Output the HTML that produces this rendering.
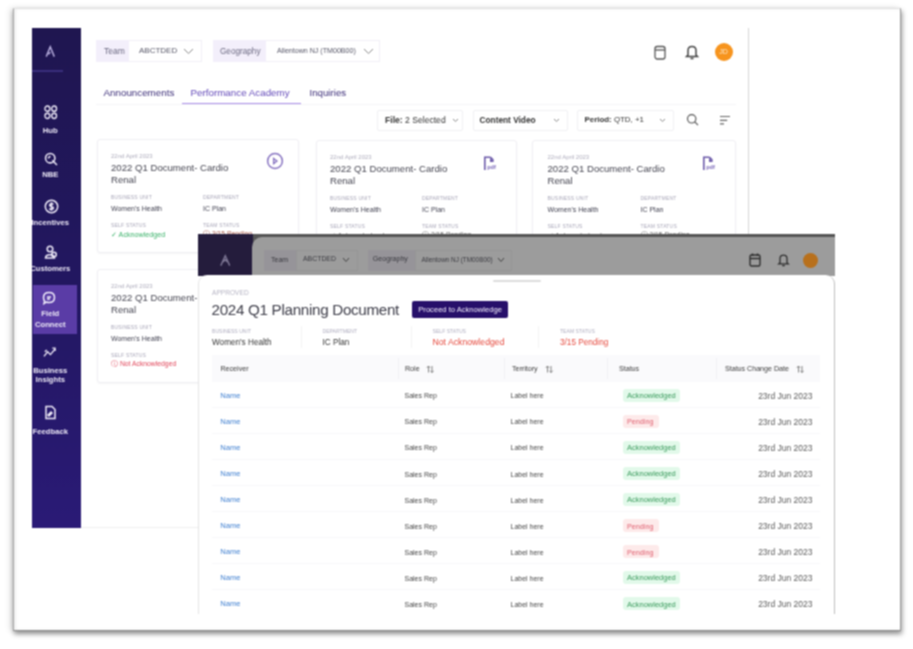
<!DOCTYPE html>
<html><head><meta charset="utf-8"><style>
*{margin:0;padding:0;box-sizing:border-box}
html,body{width:913px;height:649px;overflow:hidden;background:#fff;font-family:"Liberation Sans",sans-serif;color:#333}
.a{position:absolute}
.t{position:absolute;white-space:nowrap;line-height:1}
</style></head><body><svg width="0" height="0" style="position:absolute"><filter id="bl" x="0" y="0" width="100%" height="100%" color-interpolation-filters="sRGB"><feConvolveMatrix order="3" kernelMatrix="1 2 1 2 4 2 1 2 1" divisor="16" edgeMode="duplicate"/></filter></svg><div class="a" style="left:0;top:0;width:913px;height:649px;filter:url(#bl)">
<div class="a" style="left:13px;top:8px;width:888px;height:623px;background:#fff;border:1px solid #e2e2e2;border-left-color:#a4a4a4;border-right-color:#999;border-bottom-color:#8c8c8c;box-shadow:-3px 0 6px rgba(0,0,0,.12),1px 3px 5px rgba(0,0,0,.42),inset 2px 0 3px rgba(0,0,0,.07)"></div>
<div class="a" style="left:748px;top:28px;width:1px;height:206px;background:#d5d5d5;"></div>
<div class="a" style="left:81px;top:527px;width:118px;height:1px;background:#eee;"></div>
<div class="a" style="left:96px;top:40px;width:33px;height:22px;background:#f3effb;"></div>
<div class="a" style="left:129px;top:40px;width:73px;height:22px;border:1px solid #f1eff6;border-left:none"></div>
<div class="t" style="left:104px;top:47.08px;font-size:8.5px;color:#6a6880;">Team</div>
<div class="t" style="left:139px;top:47.34px;font-size:8px;color:#555566;">ABCTDED</div>
<svg class="a" style="left:183px;top:48px" width="11" height="7" viewBox="0 0 11 7"><path d="M1 1 L5.5 5.5 L10 1" fill="none" stroke="#888" stroke-width="1"/></svg>
<div class="a" style="left:212.5px;top:40px;width:53.5px;height:22px;background:#f3effb;"></div>
<div class="a" style="left:266.0px;top:40px;width:113.5px;height:22px;border:1px solid #f1eff6;border-left:none"></div>
<div class="t" style="left:220px;top:47.74px;font-size:8.2px;color:#6a6880;">Geography</div>
<div class="t" style="left:277px;top:48.31px;font-size:7.1px;color:#555566;">Allentown NJ (TM00B00)</div>
<svg class="a" style="left:363px;top:48px" width="11" height="7" viewBox="0 0 11 7"><path d="M1 1 L5.5 5.5 L10 1" fill="none" stroke="#888" stroke-width="1"/></svg>
<svg class="a" style="left:654px;top:44.5px" width="12" height="15" viewBox="0 0 12 15"><g fill="none" stroke="#555" stroke-width="1.3"><rect x="1" y="1.5" width="10" height="12.5" rx="2.2"/><path d="M1 5 H11"/></g></svg>
<svg class="a" style="left:685px;top:43.5px" width="14" height="16" viewBox="0 0 14 16"><g fill="none" stroke="#444" stroke-width="1.5"><path d="M3 11 V6.5 C3 4 4.8 2.5 7 2.5 C9.2 2.5 11 4 11 6.5 V11 L12.5 12.5 H1.5 Z M5.5 14.5 H8.5"/></g></svg>
<div class="a" style="left:714.6px;top:43px;width:18px;height:18px;background:#f7941d;border-radius:50%"></div>
<div class="t" style="left:714.6px;top:48.36px;font-size:7px;color:#fde9cc;width:18px;text-align:center;">JD</div>
<div class="t" style="left:103.5px;top:87.90px;font-size:9.8px;color:#3b2d78;">Announcements</div>
<div class="t" style="left:190.5px;top:87.90px;font-size:9.8px;color:#6248b8;">Performance Academy</div>
<div class="a" style="left:182px;top:102.5px;width:119px;height:2px;background:#a88ce6;"></div>
<div class="t" style="left:309.5px;top:87.96px;font-size:9.7px;color:#3b2d78;">Inquiries</div>
<div class="a" style="left:96px;top:104px;width:640px;height:1px;background:#f4f4f7;"></div>
<div class="a" style="left:377px;top:110px;width:86px;height:21px;border:1px solid #f0f0f3;border-radius:2px"></div>
<div class="t" style="left:385px;top:115.53px;font-size:8.6px;color:#333;"><b>File:</b> 2 Selected</div>
<svg class="a" style="left:451.5px;top:118px" width="7" height="5" viewBox="0 0 7 5"><path d="M1 1 L3.5 3.5 L6 1" fill="none" stroke="#888" stroke-width="1"/></svg>
<div class="a" style="left:473px;top:110px;width:95px;height:21px;border:1px solid #f0f0f3;border-radius:2px"></div>
<div class="t" style="left:479.5px;top:115.68px;font-size:8.3px;color:#333;"><b>Content Video</b></div>
<svg class="a" style="left:552.5px;top:118px" width="7" height="5" viewBox="0 0 7 5"><path d="M1 1 L3.5 3.5 L6 1" fill="none" stroke="#888" stroke-width="1"/></svg>
<div class="a" style="left:577px;top:110px;width:97px;height:21px;border:1px solid #f0f0f3;border-radius:2px"></div>
<div class="t" style="left:584.5px;top:115.89px;font-size:7.9px;color:#333;"><b>Period:</b> QTD, +1</div>
<svg class="a" style="left:659px;top:118px" width="7" height="5" viewBox="0 0 7 5"><path d="M1 1 L3.5 3.5 L6 1" fill="none" stroke="#888" stroke-width="1"/></svg>
<svg class="a" style="left:686px;top:113px" width="14" height="14" viewBox="0 0 14 14"><g fill="none" stroke="#555" stroke-width="1.15"><circle cx="5.7" cy="5.8" r="4.2"/><path d="M8.8 8.9 L12 12.2"/></g></svg>
<svg class="a" style="left:719px;top:114px" width="12" height="12" viewBox="0 0 12 12"><g fill="none" stroke="#666" stroke-width="1.2"><path d="M1 2.5 H11 M1 6.3 H8.2 M1 9.8 H5"/></g></svg>
<div class="a" style="left:97px;top:139px;width:202px;height:114px;border:1px solid #efeef3;border-radius:3px;box-shadow:0 1px 2px rgba(0,0,0,.04)"></div>
<div class="t" style="left:111px;top:152.68px;font-size:6px;color:#aeacbc;">22nd April 2023</div>
<div class="t" style="left:111px;top:163.31px;font-size:9.6px;color:#444450;">2022 Q1 Document- Cardio</div>
<div class="t" style="left:111px;top:174.71px;font-size:9.6px;color:#444450;">Renal</div>
<div class="t" style="left:111px;top:195.40px;font-size:5px;color:#a8a6b8;letter-spacing:.2px">BUSINESS UNIT</div>
<div class="t" style="left:203px;top:195.40px;font-size:5px;color:#a8a6b8;letter-spacing:.2px">DEPARTMENT</div>
<div class="t" style="left:111px;top:204.56px;font-size:7px;color:#404050;">Women's Health</div>
<div class="t" style="left:203px;top:204.56px;font-size:7px;color:#404050;">IC Plan</div>
<div class="t" style="left:111px;top:222.70px;font-size:5px;color:#a8a6b8;letter-spacing:.2px">SELF STATUS</div>
<div class="t" style="left:203px;top:222.70px;font-size:5px;color:#a8a6b8;letter-spacing:.2px">TEAM STATUS</div>
<div class="t" style="left:111px;top:230.76px;font-size:7.2px;color:#3bb26a;">&#10003; Acknowledged</div>
<div class="t" style="left:203px;top:230.96px;font-size:6.8px;color:#a85848;">&#9432; 3/15 Pending</div>
<svg class="a" style="left:266px;top:152.4px" width="18" height="18" viewBox="0 0 18 18"><g fill="none" stroke="#8672c0" stroke-width="1.5"><circle cx="9" cy="9" r="7.4"/><path d="M7.6 6.4 L11 9 L7.6 11.6 Z" stroke-width="1.3"/></g></svg>
<div class="a" style="left:316px;top:140px;width:201px;height:114px;border:1px solid #efeef3;border-radius:3px;box-shadow:0 1px 2px rgba(0,0,0,.04)"></div>
<div class="t" style="left:330px;top:153.68px;font-size:6px;color:#aeacbc;">22nd April 2023</div>
<div class="t" style="left:330px;top:164.31px;font-size:9.6px;color:#444450;">2022 Q1 Document- Cardio</div>
<div class="t" style="left:330px;top:175.71px;font-size:9.6px;color:#444450;">Renal</div>
<div class="t" style="left:330px;top:196.40px;font-size:5px;color:#a8a6b8;letter-spacing:.2px">BUSINESS UNIT</div>
<div class="t" style="left:422px;top:196.40px;font-size:5px;color:#a8a6b8;letter-spacing:.2px">DEPARTMENT</div>
<div class="t" style="left:330px;top:205.56px;font-size:7px;color:#404050;">Women's Health</div>
<div class="t" style="left:422px;top:205.56px;font-size:7px;color:#404050;">IC Plan</div>
<div class="t" style="left:330px;top:223.70px;font-size:5px;color:#a8a6b8;letter-spacing:.2px">SELF STATUS</div>
<div class="t" style="left:422px;top:223.70px;font-size:5px;color:#a8a6b8;letter-spacing:.2px">TEAM STATUS</div>
<div class="t" style="left:330px;top:231.76px;font-size:7.2px;color:#666;">&#10003; Acknowledged</div>
<div class="t" style="left:422px;top:231.96px;font-size:6.8px;color:#666;">&#9432; 3/15 Pending</div>
<svg class="a" style="left:483px;top:155.5px" width="16" height="15" viewBox="0 0 16 15"><g fill="none" stroke="#6a58a8" stroke-width="1.6"><path d="M1.8 14 V1.2 H7.5 M7.5 1.2 L9.8 3.5 V5.2 H7.8 V2.5"/></g><text x="4.2" y="13.3" font-size="5.6" font-weight="bold" fill="#7a68b8" font-family="Liberation Sans">pdf</text></svg>
<div class="a" style="left:532px;top:140px;width:204px;height:114px;border:1px solid #efeef3;border-radius:3px;box-shadow:0 1px 2px rgba(0,0,0,.04)"></div>
<div class="t" style="left:547.5px;top:153.68px;font-size:6px;color:#aeacbc;">22nd April 2023</div>
<div class="t" style="left:547.5px;top:164.31px;font-size:9.6px;color:#444450;">2022 Q1 Document- Cardio</div>
<div class="t" style="left:547.5px;top:175.71px;font-size:9.6px;color:#444450;">Renal</div>
<div class="t" style="left:547.5px;top:196.40px;font-size:5px;color:#a8a6b8;letter-spacing:.2px">BUSINESS UNIT</div>
<div class="t" style="left:640.5px;top:196.40px;font-size:5px;color:#a8a6b8;letter-spacing:.2px">DEPARTMENT</div>
<div class="t" style="left:547.5px;top:205.56px;font-size:7px;color:#404050;">Women's Health</div>
<div class="t" style="left:640.5px;top:205.56px;font-size:7px;color:#404050;">IC Plan</div>
<div class="t" style="left:547.5px;top:223.70px;font-size:5px;color:#a8a6b8;letter-spacing:.2px">SELF STATUS</div>
<div class="t" style="left:640.5px;top:223.70px;font-size:5px;color:#a8a6b8;letter-spacing:.2px">TEAM STATUS</div>
<div class="t" style="left:547.5px;top:231.76px;font-size:7.2px;color:#666;">&#10003; Acknowledged</div>
<div class="t" style="left:640.5px;top:231.96px;font-size:6.8px;color:#666;">&#9432; 3/15 Pending</div>
<svg class="a" style="left:702px;top:155.5px" width="16" height="15" viewBox="0 0 16 15"><g fill="none" stroke="#6a58a8" stroke-width="1.6"><path d="M1.8 14 V1.2 H7.5 M7.5 1.2 L9.8 3.5 V5.2 H7.8 V2.5"/></g><text x="4.2" y="13.3" font-size="5.6" font-weight="bold" fill="#7a68b8" font-family="Liberation Sans">pdf</text></svg>
<div class="a" style="left:97px;top:269px;width:202px;height:114px;border:1px solid #efeef3;border-radius:3px;box-shadow:0 1px 2px rgba(0,0,0,.04)"></div>
<div class="t" style="left:111px;top:282.68px;font-size:6px;color:#aeacbc;">22nd April 2023</div>
<div class="t" style="left:111px;top:293.31px;font-size:9.6px;color:#444450;">2022 Q1 Document- Cardio</div>
<div class="t" style="left:111px;top:304.71px;font-size:9.6px;color:#444450;">Renal</div>
<div class="t" style="left:111px;top:325.40px;font-size:5px;color:#a8a6b8;letter-spacing:.2px">BUSINESS UNIT</div>
<div class="t" style="left:203px;top:325.40px;font-size:5px;color:#a8a6b8;letter-spacing:.2px">DEPARTMENT</div>
<div class="t" style="left:111px;top:334.56px;font-size:7px;color:#404050;">Women's Health</div>
<div class="t" style="left:203px;top:334.56px;font-size:7px;color:#404050;">IC Plan</div>
<div class="t" style="left:111px;top:352.70px;font-size:5px;color:#a8a6b8;letter-spacing:.2px">SELF STATUS</div>
<div class="t" style="left:203px;top:352.70px;font-size:5px;color:#a8a6b8;letter-spacing:.2px">TEAM STATUS</div>
<div class="t" style="left:111px;top:360.96px;font-size:6.8px;color:#e0465a;">&#9432; Not Acknowledged</div>
<div class="t" style="left:203px;top:360.96px;font-size:6.8px;color:#e06a3a;">&#9432; 3/15 Pending</div>
<svg class="a" style="left:265px;top:284.5px" width="16" height="15" viewBox="0 0 16 15"><g fill="none" stroke="#6a58a8" stroke-width="1.6"><path d="M1.8 14 V1.2 H7.5 M7.5 1.2 L9.8 3.5 V5.2 H7.8 V2.5"/></g><text x="4.2" y="13.3" font-size="5.6" font-weight="bold" fill="#7a68b8" font-family="Liberation Sans">pdf</text></svg>
<div class="a" style="left:32px;top:28px;width:49px;height:500px;overflow:hidden;background:linear-gradient(#1f1650,#221760 50%,#2a1a76)"><div class="a" style="left:-32px;top:-28px;width:913px;height:649px">
<svg class="a" style="left:43.5px;top:45px" width="12.5" height="12.5" viewBox="0 0 14 14"><path d="M2.5 13 L7 2 L11.5 13 M5 10.5 L7.2 8" fill="none" stroke="#b9b0e0" stroke-width="1.6"/></svg>
<div class="a" style="left:32px;top:70.3px;width:31px;height:1.5px;background:#3a2e7c;"></div>
<svg class="a" style="left:44px;top:105px" width="13.5" height="14.5" viewBox="0 0 14 15"><g fill="none" stroke="#eeeaf8" stroke-width="1.4"><rect x="1" y="1" width="5" height="5.5" rx="2.5"/><rect x="8" y="1" width="5" height="5.5" rx="2.5"/><rect x="1" y="8.5" width="5" height="5.5" rx="2.5"/><rect x="8" y="8.5" width="5" height="5.5" rx="2.5"/></g></svg>
<svg class="a" style="left:43.5px;top:151.5px" width="14.5" height="14.5" viewBox="0 0 14 14"><g fill="none" stroke="#eeeaf8" stroke-width="1.5"><circle cx="6" cy="6" r="4.5"/><path d="M8 8 L12.5 12.5"/><path d="M4 6 L6 4"/></g></svg>
<svg class="a" style="left:43.5px;top:198.5px" width="15" height="15" viewBox="0 0 14 14"><g fill="none" stroke="#eeeaf8" stroke-width="1.4"><circle cx="7" cy="7" r="5.8"/><path d="M8.8 5 C8 4 5.2 4 5.2 5.8 C5.2 7.5 8.8 6.5 8.8 8.3 C8.8 10 6 10 5 9 M7 3 V11"/></g></svg>
<svg class="a" style="left:44px;top:244.5px" width="14" height="14" viewBox="0 0 14 14"><g fill="none" stroke="#eeeaf8" stroke-width="1.5"><circle cx="6" cy="4" r="2.8"/><path d="M1.5 13 C1.5 8.5 10.5 8.5 10.5 13 Z"/><circle cx="10" cy="9.5" r="2.3"/></g></svg>
<div class="a" style="left:33px;top:285px;width:44px;height:49px;background:#5a3ca6;"></div>
<svg class="a" style="left:42px;top:291px" width="14" height="14" viewBox="0 0 14 14"><g fill="none" stroke="#f2eefc" stroke-width="1.5"><path d="M7 1.5 C10.5 1.5 12.5 3.5 12.5 6.5 C12.5 9.5 10.5 11.5 7 11.5 C6 11.5 5 11.3 4.3 11 L2 12.5 L2.6 10 C1.8 9 1.5 7.8 1.5 6.5 C1.5 3.5 3.5 1.5 7 1.5Z"/><path d="M5 6 L9 6 M5 8 L8 8"/></g></svg>
<svg class="a" style="left:42.5px;top:346.5px" width="13" height="11.5" viewBox="0 0 14 12"><g fill="none" stroke="#eeeaf8" stroke-width="1.4"><path d="M1 10 L5 5 L8 8 L13 2"/><path d="M2 5 L4 3 M10 1 L13 1 L13 4"/></g></svg>
<svg class="a" style="left:43px;top:405px" width="14" height="15" viewBox="0 0 14 15"><g fill="none" stroke="#eeeaf8" stroke-width="1.5"><path d="M3 1.5 H9 L12 4.5 V13.5 H3 Z"/><path d="M5 10 L8 7 L9 8 L6 11 Z"/></g></svg>
<div class="t" style="left:10.3px;top:126.50px;font-size:7.7px;color:#ece8f6;width:80px;text-align:center;font-weight:bold">Hub</div>
<div class="t" style="left:10.3px;top:171.20px;font-size:7.7px;color:#ece8f6;width:80px;text-align:center;font-weight:bold">NBE</div>
<div class="t" style="left:10.3px;top:219.20px;font-size:7.7px;color:#ece8f6;width:80px;text-align:center;font-weight:bold">Incentives</div>
<div class="t" style="left:10.3px;top:265.00px;font-size:7.7px;color:#ece8f6;width:80px;text-align:center;font-weight:bold">Customers</div>
<div class="t" style="left:10.3px;top:310.00px;font-size:7.7px;color:#ece8f6;width:80px;text-align:center;font-weight:bold">Field</div>
<div class="t" style="left:10.3px;top:320.50px;font-size:7.7px;color:#ece8f6;width:80px;text-align:center;font-weight:bold">Connect</div>
<div class="t" style="left:10.3px;top:367.00px;font-size:7.7px;color:#ece8f6;width:80px;text-align:center;font-weight:bold">Business</div>
<div class="t" style="left:10.3px;top:376.30px;font-size:7.7px;color:#ece8f6;width:80px;text-align:center;font-weight:bold">Insights</div>
<div class="t" style="left:10.3px;top:427.80px;font-size:7.7px;color:#ece8f6;width:80px;text-align:center;font-weight:bold">Feedback</div>
</div></div>
<div class="a" style="left:198px;top:234px;width:637px;height:42px;background:#555;"></div>
<div class="a" style="left:198px;top:234px;width:55px;height:42px;background:#241c3c;"></div>
<svg class="a" style="left:218.5px;top:254px" width="12.5" height="12.5" viewBox="0 0 14 14"><path d="M2 13 L7 2 L12 13 M4.5 9 L7 6.5 L9.5 9" fill="none" stroke="#7d7694" stroke-width="1.6"/></svg>
<div class="a" style="left:252px;top:237px;width:583px;height:39px;background:#9c9c9c;border-top-left-radius:10px"></div>
<div class="a" style="left:264px;top:250px;width:32px;height:21px;background:#969499;"></div>
<div class="a" style="left:296px;top:250px;width:62px;height:21px;border:1px solid #959595"></div>
<div class="t" style="left:271px;top:256.36px;font-size:7px;color:#3a3a40;">Team</div>
<div class="t" style="left:303px;top:256.41px;font-size:6.9px;color:#3a3a40;">ABCTDED</div>
<svg class="a" style="left:342px;top:257px" width="8" height="6" viewBox="0 0 8 6"><path d="M1 1 L4 4.5 L7 1" fill="none" stroke="#444" stroke-width="1"/></svg>
<div class="a" style="left:368px;top:250px;width:48px;height:21px;background:#969499;"></div>
<div class="a" style="left:415px;top:250px;width:97px;height:21px;border:1px solid #959595"></div>
<div class="t" style="left:372.8px;top:256.31px;font-size:7.1px;color:#3a3a40;">Geography</div>
<div class="t" style="left:421.6px;top:256.67px;font-size:6.4px;color:#3a3a40;">Allentown NJ (TM00B00)</div>
<svg class="a" style="left:497px;top:257px" width="8" height="6" viewBox="0 0 8 6"><path d="M1 1 L4 4.5 L7 1" fill="none" stroke="#444" stroke-width="1"/></svg>
<svg class="a" style="left:749px;top:253px" width="12" height="14" viewBox="0 0 12 14"><g fill="none" stroke="#2e2e2e" stroke-width="1.4"><rect x="1" y="2" width="10" height="11" rx="1.5"/><path d="M1 5.5 H11 M3.5 0.5 V3 M8.5 0.5 V3"/></g></svg>
<svg class="a" style="left:777px;top:253px" width="13" height="14" viewBox="0 0 14 16"><g fill="none" stroke="#2e2e2e" stroke-width="1.5"><path d="M3 11 V6.5 C3 4 4.8 2.5 7 2.5 C9.2 2.5 11 4 11 6.5 V11 L12.5 12.5 H1.5 Z M5.5 14.5 H8.5"/></g></svg>
<div class="a" style="left:802.5px;top:253px;width:15px;height:15px;background:#b8701c;border-radius:50%"></div>
<div class="a" style="left:198px;top:275px;width:637px;height:339px;background:#fff;border-radius:9px 9px 0 0;border-right:1px solid #bdbdbd;border-left:1px solid #e4e4e4"></div>
<div class="a" style="left:493px;top:279.5px;width:48px;height:2.5px;background:#dcdcdc;border-radius:2px"></div>
<div class="t" style="left:212px;top:289.87px;font-size:6.6px;color:#b4b2c2;">APPROVED</div>
<div class="t" style="left:211.5px;top:302.10px;font-size:15.2px;color:#3c3c48;letter-spacing:-0.3px">2024 Q1 Planning Document</div>
<div class="a" style="left:412px;top:301px;width:96px;height:17.2px;background:#27106a;border-radius:2px"></div>
<div class="t" style="left:418.3px;top:305.85px;font-size:7.6px;color:#f4f0ff;">Proceed to Acknowledge</div>
<div class="t" style="left:212px;top:328.95px;font-size:5.1px;color:#b0aec0;">BUSINESS UNIT</div>
<div class="t" style="left:322.5px;top:328.95px;font-size:5.1px;color:#b0aec0;">DEPARTMENT</div>
<div class="t" style="left:432.5px;top:328.95px;font-size:5.1px;color:#b0aec0;">SELF STATUS</div>
<div class="t" style="left:560px;top:328.95px;font-size:5.1px;color:#b0aec0;">TEAM STATUS</div>
<div class="t" style="left:212px;top:338.74px;font-size:8.2px;color:#333;">Women's Health</div>
<div class="t" style="left:322.5px;top:338.74px;font-size:8.2px;color:#333;">IC Plan</div>
<div class="t" style="left:432.5px;top:338.48px;font-size:8.7px;color:#e5483c;">Not Acknowledged</div>
<div class="t" style="left:560px;top:338.74px;font-size:8.2px;color:#e5483c;">3/15 Pending</div>
<div class="a" style="left:301px;top:326px;width:1px;height:22px;background:#f3f3f3;"></div>
<div class="a" style="left:411px;top:326px;width:1px;height:22px;background:#f3f3f3;"></div>
<div class="a" style="left:538px;top:326px;width:1px;height:22px;background:#f3f3f3;"></div>
<div class="a" style="left:212px;top:355px;width:608px;height:27px;background:#fafafc;"></div>
<div class="a" style="left:397.5px;top:358px;width:1px;height:21px;background:#f0f0f4;"></div>
<div class="a" style="left:503.5px;top:358px;width:1px;height:21px;background:#f0f0f4;"></div>
<div class="a" style="left:607px;top:358px;width:1px;height:21px;background:#f0f0f4;"></div>
<div class="a" style="left:715.5px;top:358px;width:1px;height:21px;background:#f0f0f4;"></div>
<div class="t" style="left:220.5px;top:365.81px;font-size:7.1px;color:#3a3a3a;">Receiver</div>
<div class="t" style="left:405px;top:365.81px;font-size:7.1px;color:#3a3a3a;">Role</div>
<div class="t" style="left:512px;top:365.81px;font-size:7.1px;color:#3a3a3a;">Territory</div>
<div class="t" style="left:619px;top:365.81px;font-size:7.1px;color:#3a3a3a;">Status</div>
<div class="t" style="left:725px;top:365.81px;font-size:7.1px;color:#3a3a3a;">Status Change Date</div>
<svg class="a" style="left:425.5px;top:365px" width="8.5" height="8.5" viewBox="0 0 8.5 8.5"><g fill="none" stroke="#777" stroke-width="0.9"><path d="M2.5 7.5 V1 M0.8 2.8 L2.5 1 L4.2 2.8 M6 1 V7.5 M4.3 5.7 L6 7.5 L7.7 5.7"/></g></svg>
<svg class="a" style="left:545.3px;top:365px" width="8.5" height="8.5" viewBox="0 0 8.5 8.5"><g fill="none" stroke="#777" stroke-width="0.9"><path d="M2.5 7.5 V1 M0.8 2.8 L2.5 1 L4.2 2.8 M6 1 V7.5 M4.3 5.7 L6 7.5 L7.7 5.7"/></g></svg>
<svg class="a" style="left:795.5px;top:365px" width="8.5" height="8.5" viewBox="0 0 8.5 8.5"><g fill="none" stroke="#777" stroke-width="0.9"><path d="M2.5 7.5 V1 M0.8 2.8 L2.5 1 L4.2 2.8 M6 1 V7.5 M4.3 5.7 L6 7.5 L7.7 5.7"/></g></svg>
<div class="t" style="left:220.3px;top:392.05px;font-size:7.6px;color:#3f7fd0;">Name</div>
<div class="t" style="left:404.5px;top:392.36px;font-size:7px;color:#444;">Sales Rep</div>
<div class="t" style="left:510.5px;top:392.36px;font-size:7px;color:#484848;">Label here</div>
<div class="a" style="left:623px;top:389.0px;width:57px;height:13px;background:#e2f9ea;border-radius:3px"></div>
<div class="t" style="left:627px;top:392.10px;font-size:7.5px;color:#3a9a5c;">Acknowledged</div>
<div class="t" style="left:712px;top:391.58px;font-size:8.5px;color:#5a5a5a;width:100.5px;text-align:right;">23rd Jun 2023</div>
<div class="a" style="left:212px;top:407.0px;width:608px;height:1px;background:#f7f7f9;"></div>
<div class="t" style="left:220.3px;top:418.10px;font-size:7.6px;color:#3f7fd0;">Name</div>
<div class="t" style="left:404.5px;top:418.41px;font-size:7px;color:#444;">Sales Rep</div>
<div class="t" style="left:510.5px;top:418.41px;font-size:7px;color:#484848;">Label here</div>
<div class="a" style="left:623px;top:415.1px;width:36px;height:13px;background:#fdeaea;border-radius:3px"></div>
<div class="t" style="left:627px;top:418.31px;font-size:7.2px;color:#e06070;">Pending</div>
<div class="t" style="left:712px;top:417.63px;font-size:8.5px;color:#5a5a5a;width:100.5px;text-align:right;">23rd Jun 2023</div>
<div class="a" style="left:212px;top:433.1px;width:608px;height:1px;background:#f7f7f9;"></div>
<div class="t" style="left:220.3px;top:444.15px;font-size:7.6px;color:#3f7fd0;">Name</div>
<div class="t" style="left:404.5px;top:444.46px;font-size:7px;color:#444;">Sales Rep</div>
<div class="t" style="left:510.5px;top:444.46px;font-size:7px;color:#484848;">Label here</div>
<div class="a" style="left:623px;top:441.1px;width:57px;height:13px;background:#e2f9ea;border-radius:3px"></div>
<div class="t" style="left:627px;top:444.20px;font-size:7.5px;color:#3a9a5c;">Acknowledged</div>
<div class="t" style="left:712px;top:443.68px;font-size:8.5px;color:#5a5a5a;width:100.5px;text-align:right;">23rd Jun 2023</div>
<div class="a" style="left:212px;top:459.1px;width:608px;height:1px;background:#f7f7f9;"></div>
<div class="t" style="left:220.3px;top:470.20px;font-size:7.6px;color:#3f7fd0;">Name</div>
<div class="t" style="left:404.5px;top:470.51px;font-size:7px;color:#444;">Sales Rep</div>
<div class="t" style="left:510.5px;top:470.51px;font-size:7px;color:#484848;">Label here</div>
<div class="a" style="left:623px;top:467.1px;width:57px;height:13px;background:#e2f9ea;border-radius:3px"></div>
<div class="t" style="left:627px;top:470.25px;font-size:7.5px;color:#3a9a5c;">Acknowledged</div>
<div class="t" style="left:712px;top:469.73px;font-size:8.5px;color:#5a5a5a;width:100.5px;text-align:right;">23rd Jun 2023</div>
<div class="a" style="left:212px;top:485.1px;width:608px;height:1px;background:#f7f7f9;"></div>
<div class="t" style="left:220.3px;top:496.25px;font-size:7.6px;color:#3f7fd0;">Name</div>
<div class="t" style="left:404.5px;top:496.56px;font-size:7px;color:#444;">Sales Rep</div>
<div class="t" style="left:510.5px;top:496.56px;font-size:7px;color:#484848;">Label here</div>
<div class="a" style="left:623px;top:493.2px;width:57px;height:13px;background:#e2f9ea;border-radius:3px"></div>
<div class="t" style="left:627px;top:496.30px;font-size:7.5px;color:#3a9a5c;">Acknowledged</div>
<div class="t" style="left:712px;top:495.78px;font-size:8.5px;color:#5a5a5a;width:100.5px;text-align:right;">23rd Jun 2023</div>
<div class="a" style="left:212px;top:511.2px;width:608px;height:1px;background:#f7f7f9;"></div>
<div class="t" style="left:220.3px;top:522.30px;font-size:7.6px;color:#3f7fd0;">Name</div>
<div class="t" style="left:404.5px;top:522.61px;font-size:7px;color:#444;">Sales Rep</div>
<div class="t" style="left:510.5px;top:522.61px;font-size:7px;color:#484848;">Label here</div>
<div class="a" style="left:623px;top:519.2px;width:36px;height:13px;background:#fdeaea;border-radius:3px"></div>
<div class="t" style="left:627px;top:522.51px;font-size:7.2px;color:#e06070;">Pending</div>
<div class="t" style="left:712px;top:521.83px;font-size:8.5px;color:#5a5a5a;width:100.5px;text-align:right;">23rd Jun 2023</div>
<div class="a" style="left:212px;top:537.2px;width:608px;height:1px;background:#f7f7f9;"></div>
<div class="t" style="left:220.3px;top:548.35px;font-size:7.6px;color:#3f7fd0;">Name</div>
<div class="t" style="left:404.5px;top:548.66px;font-size:7px;color:#444;">Sales Rep</div>
<div class="t" style="left:510.5px;top:548.66px;font-size:7px;color:#484848;">Label here</div>
<div class="a" style="left:623px;top:545.3px;width:36px;height:13px;background:#fdeaea;border-radius:3px"></div>
<div class="t" style="left:627px;top:548.56px;font-size:7.2px;color:#e06070;">Pending</div>
<div class="t" style="left:712px;top:547.88px;font-size:8.5px;color:#5a5a5a;width:100.5px;text-align:right;">23rd Jun 2023</div>
<div class="a" style="left:212px;top:563.3px;width:608px;height:1px;background:#f7f7f9;"></div>
<div class="t" style="left:220.3px;top:574.40px;font-size:7.6px;color:#3f7fd0;">Name</div>
<div class="t" style="left:404.5px;top:574.71px;font-size:7px;color:#444;">Sales Rep</div>
<div class="t" style="left:510.5px;top:574.71px;font-size:7px;color:#484848;">Label here</div>
<div class="a" style="left:623px;top:571.4px;width:57px;height:13px;background:#e2f9ea;border-radius:3px"></div>
<div class="t" style="left:627px;top:574.45px;font-size:7.5px;color:#3a9a5c;">Acknowledged</div>
<div class="t" style="left:712px;top:573.93px;font-size:8.5px;color:#5a5a5a;width:100.5px;text-align:right;">23rd Jun 2023</div>
<div class="a" style="left:212px;top:589.4px;width:608px;height:1px;background:#f7f7f9;"></div>
<div class="t" style="left:220.3px;top:600.45px;font-size:7.6px;color:#3f7fd0;">Name</div>
<div class="t" style="left:404.5px;top:600.76px;font-size:7px;color:#444;">Sales Rep</div>
<div class="t" style="left:510.5px;top:600.76px;font-size:7px;color:#484848;">Label here</div>
<div class="a" style="left:623px;top:597.4px;width:57px;height:13px;background:#e2f9ea;border-radius:3px"></div>
<div class="t" style="left:627px;top:600.50px;font-size:7.5px;color:#3a9a5c;">Acknowledged</div>
<div class="t" style="left:712px;top:599.98px;font-size:8.5px;color:#5a5a5a;width:100.5px;text-align:right;">23rd Jun 2023</div>
</div></body></html>
